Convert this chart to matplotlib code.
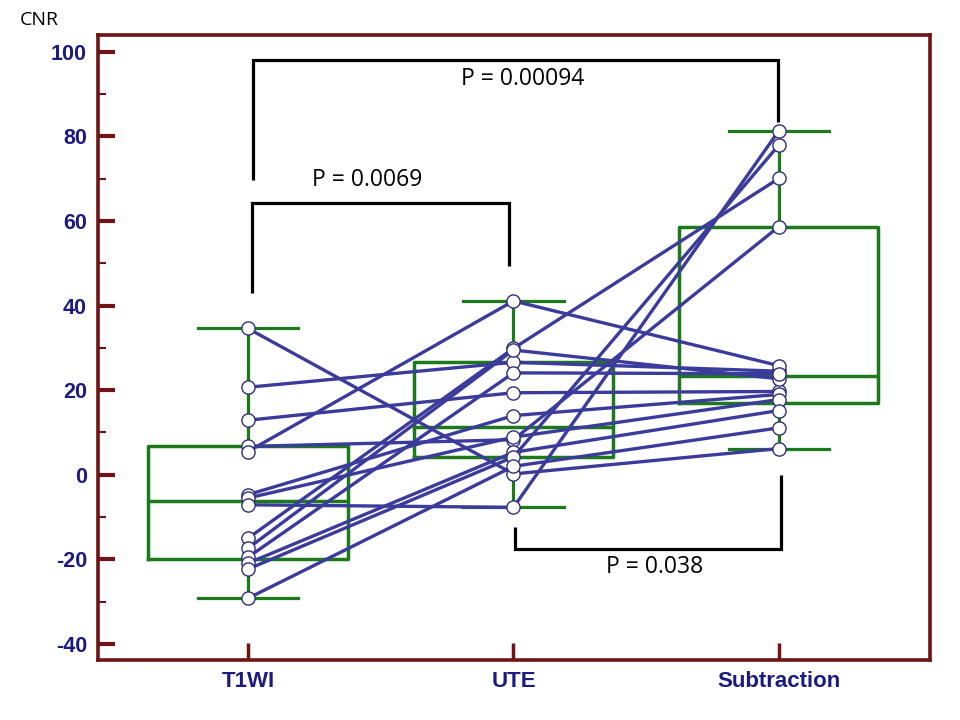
import numpy as np
import matplotlib
matplotlib.use("Agg")
import matplotlib.pyplot as plt
from matplotlib.ticker import MultipleLocator

plt.rcParams["axes.unicode_minus"] = False

# ---- data ----
categories = ["T1WI", "UTE", "Subtraction"]
t1wi = [34.6, 20.7, 12.9, 6.7, 5.5, -4.7, -5.5, -7.1, -15.0, -17.4, -19.5, -20.9, -22.3, -29.2]
ute = [0.2, 26.6, 19.4, 8.3, 41.1, 14.0, 8.9, -7.7, 29.9, 29.5, 24.1, 5.3, 4.2, 2.0]
subtraction = [6.2, 24.5, 19.7, 58.7, 25.8, 19.0, 17.8, 81.4, 70.1, 22.7, 23.9, 15.2, 78.0, 11.1]

# box statistics
box_q1 = [-19.9, 4.1, 17.0]
box_med = [-6.3, 11.3, 23.3]
box_q3 = [6.7, 26.7, 58.7]
box_lo = [-29.2, -7.7, 6.2]
box_hi = [34.6, 41.1, 81.4]

p_labels = ["P = 0.00094", "P = 0.0069", "P = 0.038"]

# ---- style ----
maroon = "#6e1414"
green = "#1c7a1c"
navy = "#1b1b80"
line_col = "#3b3b9c"

fig = plt.figure(figsize=(9.6, 7.2), dpi=100)
ax = fig.add_axes([98/960, 60/720, (930-98)/960, (660-35)/720])

x = np.arange(len(categories))

stats = []
for i, c in enumerate(categories):
    stats.append(dict(label=c, q1=box_q1[i], med=box_med[i], q3=box_q3[i],
                      whislo=box_lo[i], whishi=box_hi[i], fliers=[]))
ax.bxp(stats, positions=x, widths=0.75, capwidths=0.38, showfliers=False,
       boxprops=dict(color=green, linewidth=2.5),
       medianprops=dict(color=green, linewidth=2.5),
       whiskerprops=dict(color=green, linewidth=2.3),
       capprops=dict(color=green, linewidth=2.3),
       manage_ticks=False, zorder=2)

data = np.array([t1wi, ute, subtraction])
for j in range(data.shape[1]):
    ax.plot(x, data[:, j], color=line_col, linewidth=2.4, zorder=3,
            marker="o", markersize=9.5, markerfacecolor="white",
            markeredgecolor="#2e2e78", markeredgewidth=1.0)

ax.set_xlim(-0.565, 2.569)
ax.set_ylim(-43.8, 104.0)

ax.set_xticks(x)
ax.set_xticklabels(categories)
ax.yaxis.set_major_locator(MultipleLocator(20))
ax.yaxis.set_minor_locator(MultipleLocator(10))
ax.tick_params(axis="y", which="major", direction="in", length=12, width=3,
               color=maroon, labelcolor=navy, labelsize=15.5, pad=8)
ax.tick_params(axis="y", which="minor", direction="in", length=6, width=1.5,
               color=maroon)
ax.tick_params(axis="x", which="major", direction="in", length=12, width=2.5,
               color=maroon, labelcolor=navy, labelsize=16, pad=8)
for lab in ax.get_xticklabels() + ax.get_yticklabels():
    lab.set_fontweight("bold")
    lab.set_fontfamily("Liberation Sans")

for s in ax.spines.values():
    s.set_color(maroon)
    s.set_linewidth(2.6)

fig.text(20/960, 1 - 20/720, "CNR", fontsize=14, family="Open Sans",
         va="center", ha="left", color="black")

# significance brackets
bk = dict(color="black", linewidth=2.3, clip_on=False, zorder=5,
          solid_capstyle="butt", solid_joinstyle="miter")
ax.plot([0.019, 0.019, 1.996, 1.996], [69.7, 98.1, 98.1, 83.5], **bk)
ax.text(1.036, 93.6, p_labels[0], ha="center", va="center", fontsize=16.5,
        family="Open Sans")
ax.plot([0.014, 0.014, 0.983, 0.983], [43.0, 64.3, 64.3, 49.4], **bk)
ax.text(0.45, 69.6, p_labels[1], ha="center", va="center", fontsize=16.5,
        family="Open Sans")
ax.plot([1.006, 1.006, 2.008, 2.008], [-12.3, -17.5, -17.5, 0.0], **bk)
ax.text(1.533, -21.8, p_labels[2], ha="center", va="center", fontsize=16.5,
        family="Open Sans")

fig.savefig("out.png", dpi=100)
